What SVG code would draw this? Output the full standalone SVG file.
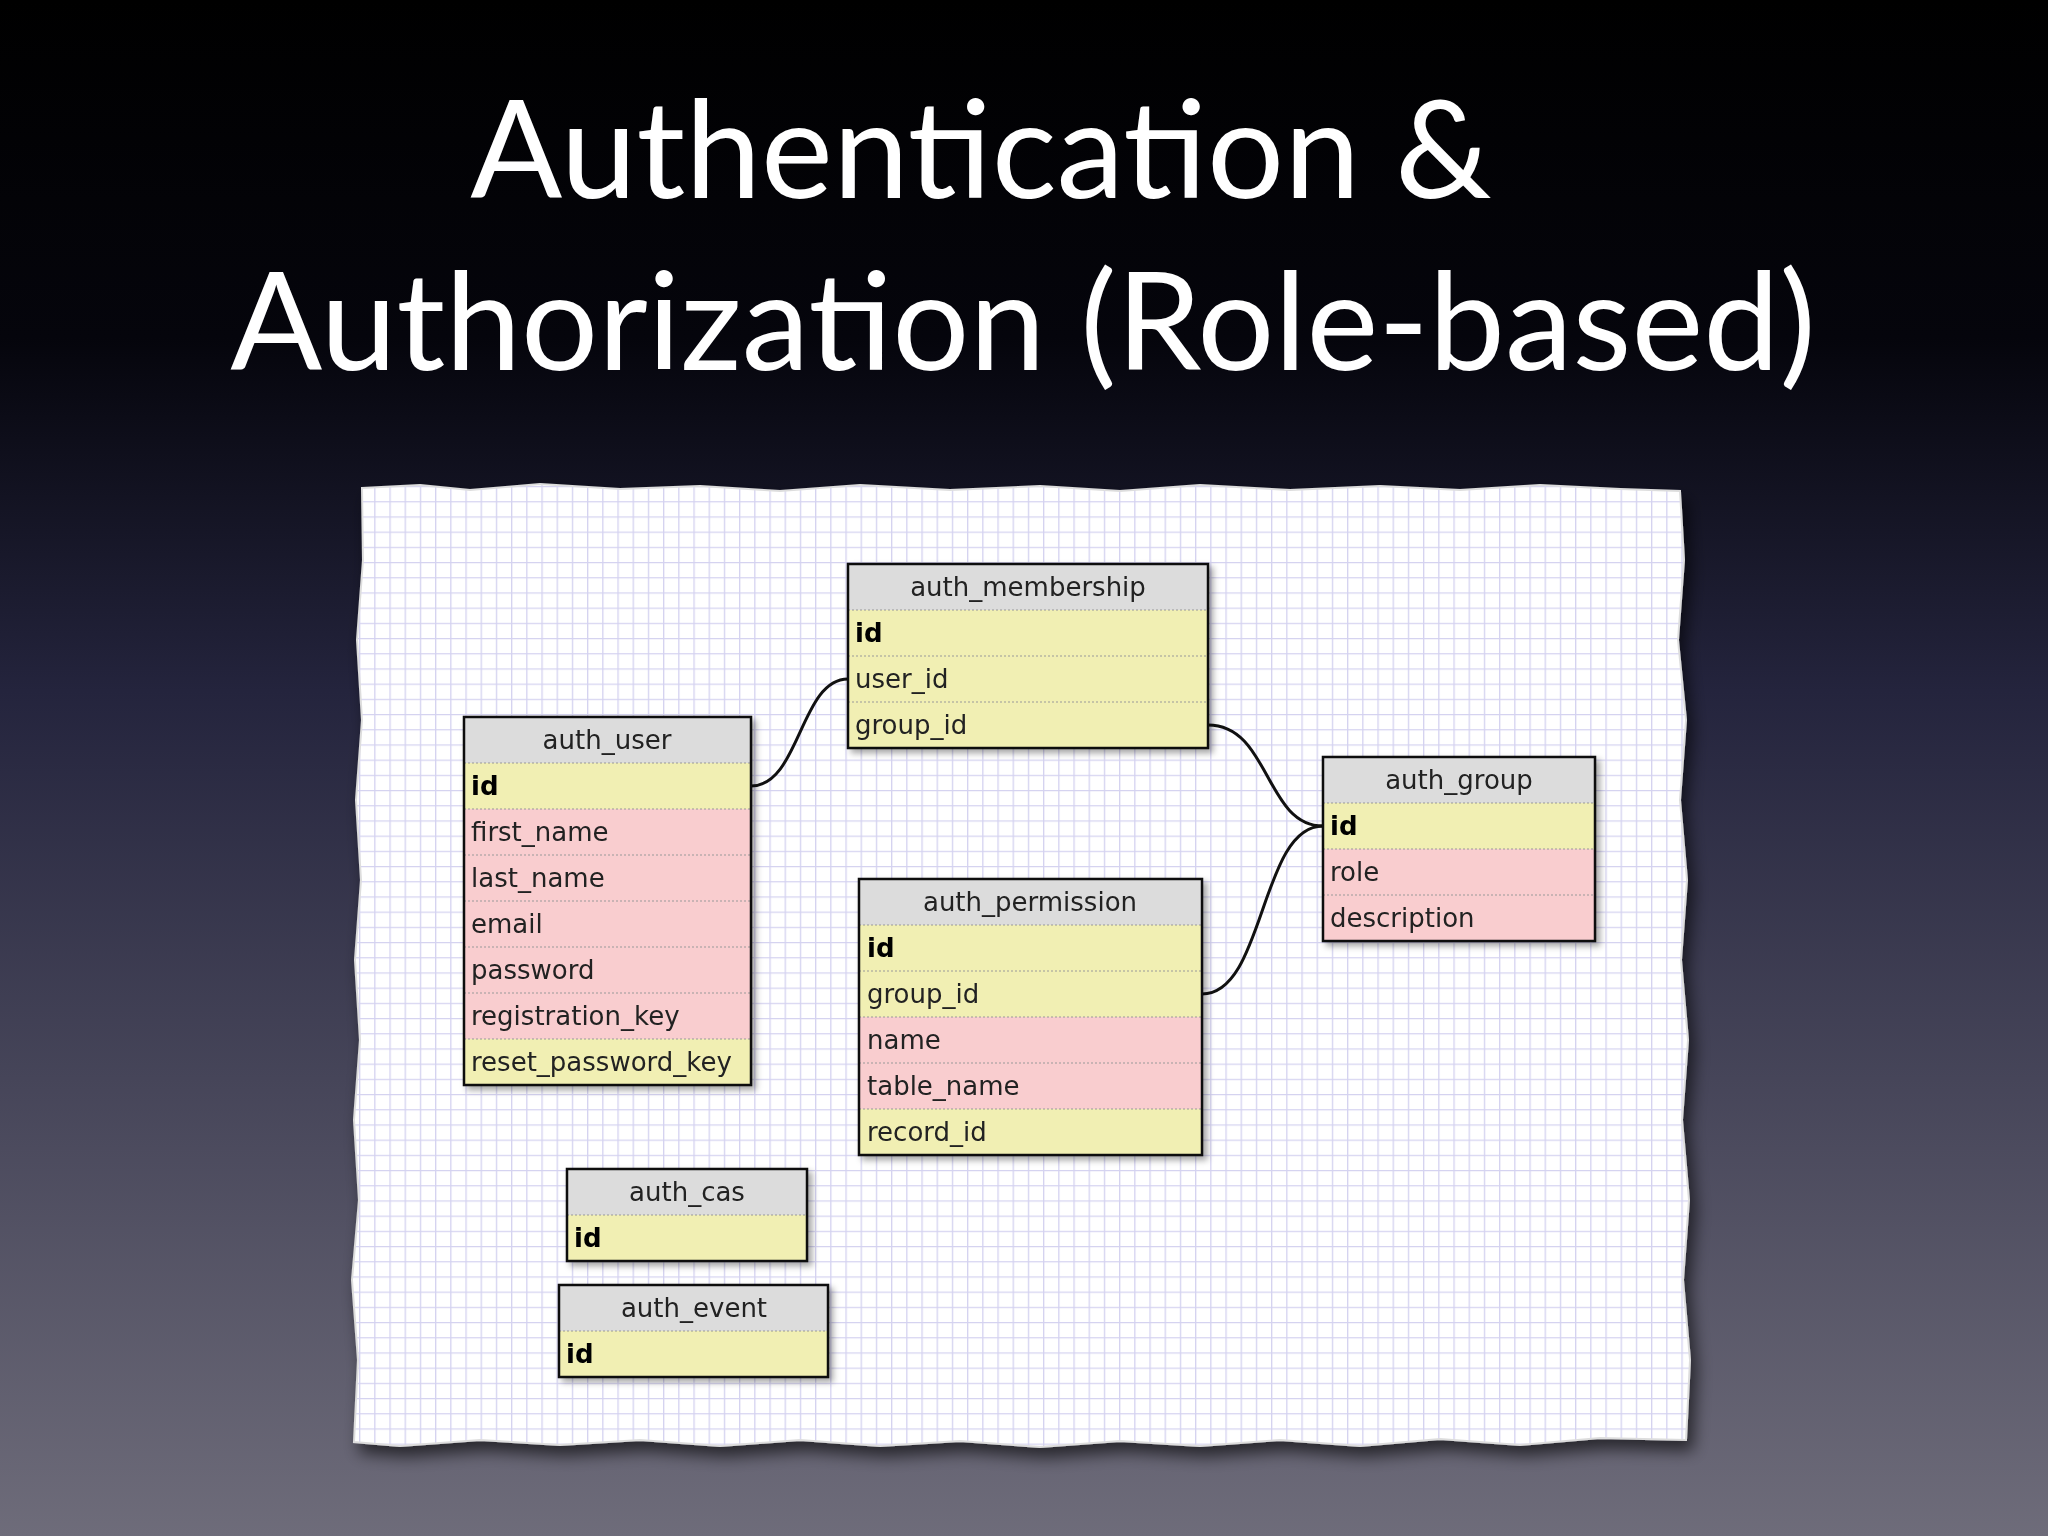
<svg xmlns="http://www.w3.org/2000/svg" width="2048" height="1536" viewBox="0 0 2048 1536">
<defs>
<linearGradient id="bg" x1="0" y1="0" x2="0" y2="1">
<stop offset="0" stop-color="#000"/><stop offset="0.22" stop-color="#05050c"/><stop offset="0.45" stop-color="#24243d"/><stop offset="1" stop-color="#6e6c7a"/>
</linearGradient>
<pattern id="grid" width="15.2" height="15.2" patternUnits="userSpaceOnUse" x="359" y="486">
<rect width="15.2" height="15.2" fill="#fff"/>
<path d="M0,0.5H15.2M0.5,0V15.2" stroke="#d4d2f0" stroke-width="1.6" fill="none"/>
</pattern>
<filter id="sh" x="-10%" y="-10%" width="130%" height="130%"><feDropShadow dx="4" dy="4" stdDeviation="3" flood-color="#000" flood-opacity="0.35"/></filter>
<filter id="psh" x="-5%" y="-5%" width="115%" height="115%"><feDropShadow dx="6" dy="10" stdDeviation="8" flood-color="#000" flood-opacity="0.6"/></filter>
</defs>
<style>
.t{font-family:"Lato","Open Sans",sans-serif;fill:#fff;font-size:136px}
.h{fill:#dcdcdc}.y{fill:#f1efb3}.p{fill:#f9cdcf}
.f{font-family:"DejaVu Sans","Verdana",sans-serif;font-size:26px;fill:#222}
.b{font-weight:bold;fill:#000}
.sep{stroke:#999;stroke-width:1;stroke-dasharray:2 2}
.box{fill:none;stroke:#111;stroke-width:2.5}
.c{fill:none;stroke:#111;stroke-width:3}
</style>
<rect width="2048" height="1536" fill="url(#bg)"/>
<text class="t" x="981" y="198" text-anchor="middle">Authentication &amp;</text>
<text class="t" x="1023" y="370" text-anchor="middle">Authorization (Role-based)</text>
<path filter="url(#psh)" fill="url(#grid)" stroke="#ddd" stroke-width="2" d="M362,488 L420,485 L470,490 L540,484 L620,489 L700,486 L780,491 L860,485 L950,490 L1040,486 L1120,491 L1200,485 L1290,490 L1380,486 L1460,490 L1540,485 L1620,489 L1680,491 L1684,560 L1678,640 L1686,720 L1680,800 L1687,880 L1681,960 L1688,1040 L1682,1120 L1689,1200 L1683,1280 L1690,1360 L1686,1440 L1600,1438 L1520,1445 L1440,1439 L1360,1446 L1280,1440 L1200,1446 L1120,1441 L1040,1447 L960,1441 L880,1446 L800,1440 L720,1446 L640,1440 L560,1445 L480,1440 L400,1446 L354,1442 L358,1360 L352,1280 L359,1200 L354,1120 L360,1040 L355,960 L361,880 L356,800 L362,720 L357,640 L363,560 Z"/>
<g id="connectors">
<path class="c" d="M751,786 C800,786 800,679 848,679"/>
<path class="c" d="M1208,725 C1270,725 1265,826 1323,826"/>
<path class="c" d="M1202,994 C1265,994 1260,826 1323,826"/>
</g>
<g id="auth_membership" filter="url(#sh)">
<rect class="h" x="848" y="564" width="360" height="46"/>
<rect class="y" x="848" y="610" width="360" height="138"/>
<line class="sep" x1="848" y1="610" x2="1208" y2="610"/><line class="sep" x1="848" y1="656" x2="1208" y2="656"/><line class="sep" x1="848" y1="702" x2="1208" y2="702"/>
<rect class="box" x="848" y="564" width="360" height="184"/>
<text class="f" x="1028" y="596" text-anchor="middle">auth_membership</text>
<text class="f b" x="855" y="642">id</text><text class="f" x="855" y="688">user_id</text><text class="f" x="855" y="734">group_id</text>
</g>
<g id="auth_user" filter="url(#sh)">
<rect class="h" x="464" y="717" width="287" height="46"/>
<rect class="y" x="464" y="763" width="287" height="46"/>
<rect class="p" x="464" y="809" width="287" height="230"/>
<rect class="y" x="464" y="1039" width="287" height="46"/>
<g class="sep"><line x1="464" y1="763" x2="751" y2="763"/><line x1="464" y1="809" x2="751" y2="809"/><line x1="464" y1="855" x2="751" y2="855"/><line x1="464" y1="901" x2="751" y2="901"/><line x1="464" y1="947" x2="751" y2="947"/><line x1="464" y1="993" x2="751" y2="993"/><line x1="464" y1="1039" x2="751" y2="1039"/></g>
<rect class="box" x="464" y="717" width="287" height="368"/>
<text class="f" x="607" y="749" text-anchor="middle">auth_user</text>
<text class="f b" x="471" y="795">id</text><text class="f" x="471" y="841">first_name</text><text class="f" x="471" y="887">last_name</text><text class="f" x="471" y="933">email</text><text class="f" x="471" y="979">password</text><text class="f" x="471" y="1025">registration_key</text><text class="f" x="471" y="1071">reset_password_key</text>
</g>
<g id="auth_group" filter="url(#sh)">
<rect class="h" x="1323" y="757" width="272" height="46"/>
<rect class="y" x="1323" y="803" width="272" height="46"/>
<rect class="p" x="1323" y="849" width="272" height="92"/>
<g class="sep"><line x1="1323" y1="803" x2="1595" y2="803"/><line x1="1323" y1="849" x2="1595" y2="849"/><line x1="1323" y1="895" x2="1595" y2="895"/></g>
<rect class="box" x="1323" y="757" width="272" height="184"/>
<text class="f" x="1459" y="789" text-anchor="middle">auth_group</text>
<text class="f b" x="1330" y="835">id</text><text class="f" x="1330" y="881">role</text><text class="f" x="1330" y="927">description</text>
</g>
<g id="auth_permission" filter="url(#sh)">
<rect class="h" x="859" y="879" width="343" height="46"/>
<rect class="y" x="859" y="925" width="343" height="92"/>
<rect class="p" x="859" y="1017" width="343" height="92"/>
<rect class="y" x="859" y="1109" width="343" height="46"/>
<g class="sep"><line x1="859" y1="925" x2="1202" y2="925"/><line x1="859" y1="971" x2="1202" y2="971"/><line x1="859" y1="1017" x2="1202" y2="1017"/><line x1="859" y1="1063" x2="1202" y2="1063"/><line x1="859" y1="1109" x2="1202" y2="1109"/></g>
<rect class="box" x="859" y="879" width="343" height="276"/>
<text class="f" x="1030" y="911" text-anchor="middle">auth_permission</text>
<text class="f b" x="867" y="957">id</text><text class="f" x="867" y="1003">group_id</text><text class="f" x="867" y="1049">name</text><text class="f" x="867" y="1095">table_name</text><text class="f" x="867" y="1141">record_id</text>
</g>
<g id="auth_cas" filter="url(#sh)">
<rect class="h" x="567" y="1169" width="240" height="46"/>
<rect class="y" x="567" y="1215" width="240" height="46"/>
<line class="sep" x1="567" y1="1215" x2="807" y2="1215"/>
<rect class="box" x="567" y="1169" width="240" height="92"/>
<text class="f" x="687" y="1201" text-anchor="middle">auth_cas</text>
<text class="f b" x="574" y="1247">id</text>
</g>
<g id="auth_event" filter="url(#sh)">
<rect class="h" x="559" y="1285" width="269" height="46"/>
<rect class="y" x="559" y="1331" width="269" height="46"/>
<line class="sep" x1="559" y1="1331" x2="828" y2="1331"/>
<rect class="box" x="559" y="1285" width="269" height="92"/>
<text class="f" x="694" y="1317" text-anchor="middle">auth_event</text>
<text class="f b" x="566" y="1363">id</text>
</g>
</svg>
